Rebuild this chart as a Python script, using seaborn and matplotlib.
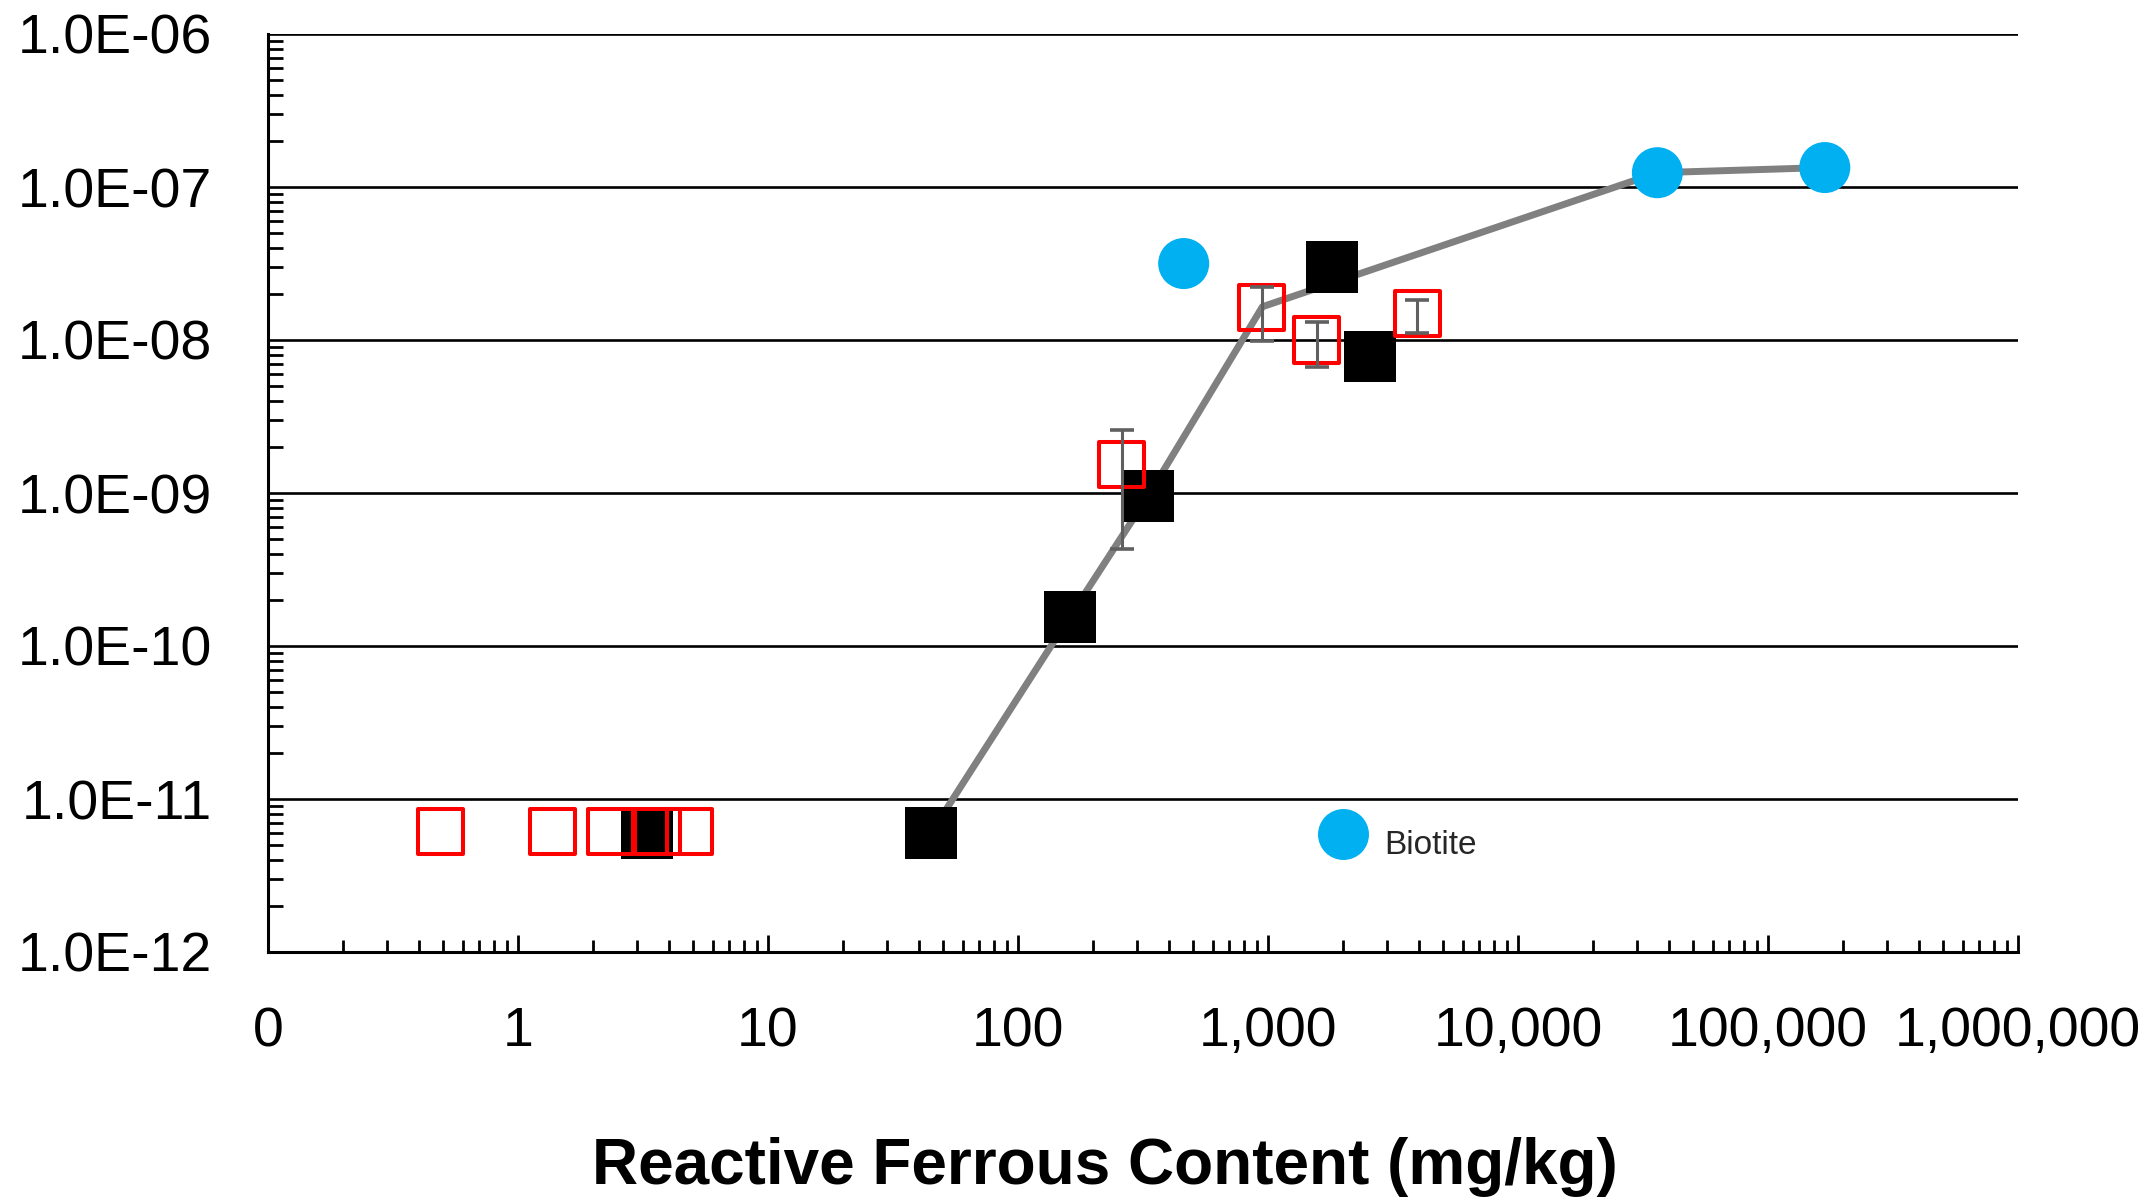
import numpy as np
import pandas as pd
import matplotlib
matplotlib.use("Agg")
import matplotlib.pyplot as plt
import matplotlib.ticker as mticker
from matplotlib.lines import Line2D
import seaborn as sns

# ---- data ----
black_x = [3.27, 44.9, 161, 332, 1800, 2550]
black_y = [6.0e-12, 6.0e-12, 1.55e-10, 9.6e-10, 3.0e-8, 7.8e-9]

red_x = [0.49, 1.38, 2.35, 3.6, 4.85, 260, 946, 1570, 3945]
red_y = [6.1e-12, 6.1e-12, 6.1e-12, 6.1e-12, 6.1e-12, 1.53e-9, 1.64e-8, 1.0e-8, 1.49e-8]

err_x = [260, 946, 1570, 3945]
err_y = [1.53e-9, 1.64e-8, 1.0e-8, 1.49e-8]
err_lo = [4.3e-10, 9.8e-9, 6.7e-9, 1.11e-8]
err_hi = [2.58e-9, 2.21e-8, 1.31e-8, 1.82e-8]

biotite_x = [460, 36100, 168700]
biotite_y = [3.16e-8, 1.24e-7, 1.34e-7]

line_x = [44.9, 161, 332, 950, 36100, 168700]
line_y = [6.0e-12, 1.55e-10, 9.6e-10, 1.65e-8, 1.24e-7, 1.34e-7]

x_ticks = [0.1, 1, 10, 100, 1000, 10000, 100000, 1000000]
x_ticklabels = ["0", "1", "10", "100", "1,000", "10,000", "100,000", "1,000,000"]
y_ticks = [1e-12, 1e-11, 1e-10, 1e-9, 1e-8, 1e-7, 1e-6]
y_ticklabels = ["1.0E-12", "1.0E-11", "1.0E-10", "1.0E-09", "1.0E-08", "1.0E-07", "1.0E-06"]
x_label = "Reactive Ferrous Content (mg/kg)"
legend_label = "Biotite"

# ---- styling ----
sns.set_theme(style="white")
plt.rcParams["font.family"] = ["Liberation Sans", "DejaVu Sans"]

W, H = 2153, 1200
fig = plt.figure(figsize=(W / 100, H / 100), dpi=100)
ax = fig.add_axes([268 / W, 1 - 952 / H, 1750 / W, 918 / H])
ax.set_xscale("log")
ax.set_yscale("log")

df_black = pd.DataFrame({"x": black_x, "y": black_y})
df_red = pd.DataFrame({"x": red_x, "y": red_y})
df_bio = pd.DataFrame({"x": biotite_x, "y": biotite_y})
df_line = pd.DataFrame({"x": line_x, "y": line_y})

sns.lineplot(data=df_line, x="x", y="y", sort=False, color="#808080",
             linewidth=5.0, ax=ax, zorder=3)
sns.scatterplot(data=df_black, x="x", y="y", marker="s", s=1400, color="black",
                edgecolor="none", linewidth=0, ax=ax, zorder=4)
sns.scatterplot(data=df_red, x="x", y="y", marker="s", s=1050, facecolor="none",
                edgecolor="#FF0000", linewidth=2.9, ax=ax, zorder=5)
yerr = np.array([np.array(err_y) - np.array(err_lo), np.array(err_hi) - np.array(err_y)])
ax.errorbar(err_x, err_y, yerr=yerr, fmt="none", ecolor="#606060", elinewidth=2.2,
            capsize=8.6, capthick=2.6, zorder=6)
sns.scatterplot(data=df_bio, x="x", y="y", marker="o", s=1350, color="#00B0F0",
                edgecolor="none", linewidth=0, ax=ax, zorder=7)

ax.set_xlim(0.1, 1e6)
ax.set_ylim(1e-12, 1e-6)

ax.set_xticks(x_ticks)
ax.set_xticklabels(x_ticklabels)
ax.set_yticks(y_ticks)
ax.set_yticklabels(y_ticklabels)
ax.xaxis.set_minor_locator(mticker.LogLocator(base=10, subs=np.arange(2, 10), numticks=100))
ax.yaxis.set_minor_locator(mticker.LogLocator(base=10, subs=np.arange(2, 10), numticks=100))
ax.xaxis.set_minor_formatter(mticker.NullFormatter())
ax.yaxis.set_minor_formatter(mticker.NullFormatter())

ax.grid(False)
ax.yaxis.grid(True, which="major", color="black", linewidth=1.9)
ax.set_axisbelow(True)

for side in ["top", "right"]:
    ax.spines[side].set_visible(False)
for side in ["left", "bottom"]:
    ax.spines[side].set_color("black")
    ax.spines[side].set_linewidth(2.2)

ax.tick_params(axis="y", which="major", direction="in", length=0, labelsize=40,
               pad=40, labelcolor="black", left=True)
ax.tick_params(axis="y", which="minor", direction="in", length=11, width=2.0,
               color="black", left=True)
ax.tick_params(axis="x", which="major", direction="in", length=12, width=2.0,
               color="black", labelsize=40, pad=39, labelcolor="black", bottom=True)
ax.tick_params(axis="x", which="minor", direction="in", length=8.6, width=2.0,
               color="black", bottom=True)

ax.set_ylabel("")
ax.set_xlabel(x_label, fontsize=46, fontweight="bold", color="black", va="center")
ax.xaxis.set_label_coords((1105 - 268) / 1750, (952 - 1167) / 918)

handle = Line2D([], [], marker="o", linestyle="none", markersize=36.7,
                markerfacecolor="#00B0F0", markeredgewidth=0)
leg = ax.legend(handles=[handle], labels=[legend_label], loc="center left",
                bbox_to_anchor=((1326.5 - 268) / 1750, (952 - 837) / 918),
                frameon=False, fontsize=24, handlelength=1.0, handletextpad=0.73,
                borderpad=0, borderaxespad=0)
# the reference shows the label sitting a little below the marker centre
leg.get_texts()[0].set_y(-9)

fig.savefig("out.png", dpi=100, facecolor="white")
